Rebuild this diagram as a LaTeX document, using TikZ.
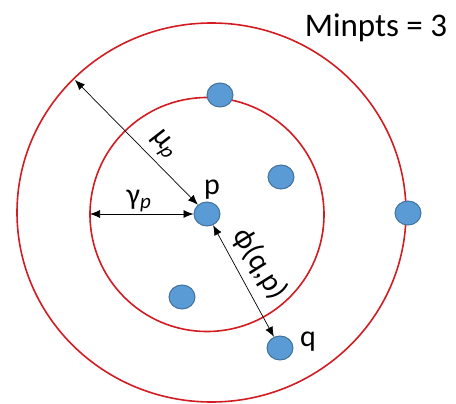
\documentclass[tikz,border=0pt]{standalone}
\usepackage{fontspec}
\setmainfont{Carlito}
\usetikzlibrary{shapes.geometric, arrows.meta, positioning}
\usepackage[svgnames]{xcolor}
\definecolor{ringred}{RGB}{210,28,34}
\definecolor{dotblue}{RGB}{91,155,213}
\definecolor{dotedge}{RGB}{65,113,156}

\begin{document}
\begin{tikzpicture}[x=1pt, y=-1pt,
    ring/.style={draw=ringred, line width=1.6pt},
    dot/.style={ellipse, draw=dotedge, fill=dotblue, line width=1pt,
                minimum width=26pt, minimum height=24pt, inner sep=0pt},
    dimline/.style={<->, >={Latex[length=10pt,width=8pt]}, line width=0.7pt},
    lbl/.style={font=\fontsize{30}{34}\selectfont, inner sep=0pt}]
                \useasboundingbox (0,0) rectangle (456,404);

                % Rings
                \draw[ring] (211.5,212.5) ellipse [x radius=194.5pt, y radius=189.5pt];
                \draw[ring] (207,214.5) circle [radius=117pt];

                % Points
                \node[dot] (p) at (207,214) {};
                \node[dot] (top) at (220,95) {};
                \node[dot] (mid) at (281,177) {};
                \node[dot] (far) at (408,213) {};
                \node[dot] (low) at (182,297) {};
                \node[dot] (q) at (280,348) {};

                % Arrow ends on the rings
                \coordinate (outerpt) at (75,80);
                \coordinate (innerpt) at (90,214);

                % Arrows
                \draw[dimline] (outerpt) -- (p);
                \draw[dimline] (innerpt) -- (p);
                \draw[dimline] (p) -- (q);

                % Labels
                \node[lbl, anchor=base] (plbl) at (212,195) {p};
                \node[lbl, anchor=base] (qlbl) at (308,346) {q};
                \node[lbl, rotate=-52] (mulbl) at (163,145) {μ\textsubscript{\itshape p}};
                \node[lbl] (gammalbl) at (139,201) {γ\textsubscript{\itshape p}};
                \node[lbl, rotate=-58] (philbl) at (260,264) {ϕ(q,p)};
                \node[font=\fontsize{33}{38}\selectfont, inner sep=0pt, anchor=base] (minpts) at (376,37) {Minpts = 3};
            \end{tikzpicture}
\end{document}
